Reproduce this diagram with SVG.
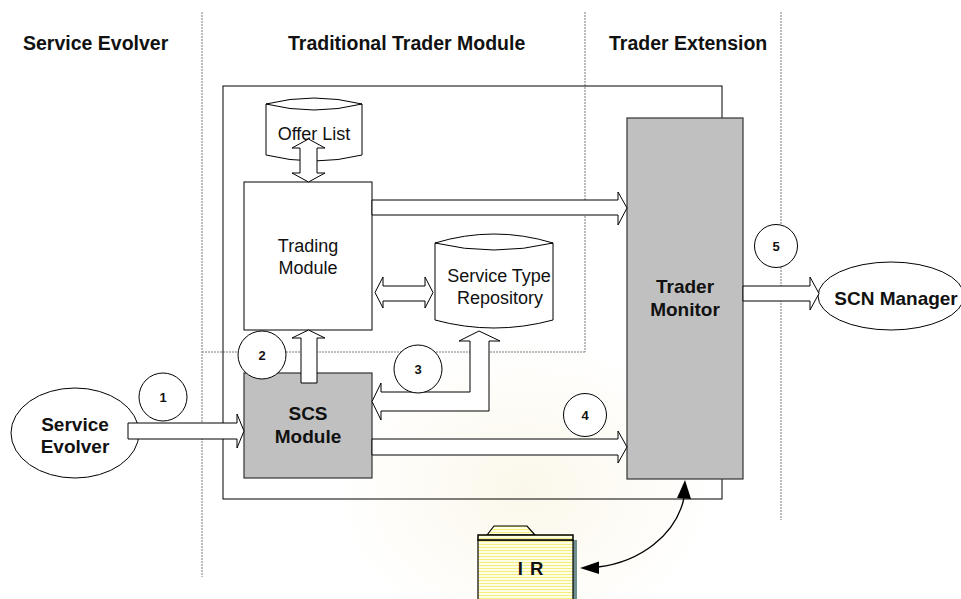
<svg xmlns="http://www.w3.org/2000/svg" width="961" height="599" viewBox="0 0 961 599">
  <defs>
    <style>
      .hdr { font-family: "Liberation Sans", Arial, sans-serif; font-weight: bold; font-size: 19.5px; fill: #111; }
      .lbl { font-family: "Liberation Sans", Arial, sans-serif; font-size: 18px; fill: #111; text-anchor: middle; }
      .blbl { font-family: "Liberation Sans", Arial, sans-serif; font-weight: bold; font-size: 19px; fill: #111; text-anchor: middle; }
      .num { font-family: "Liberation Sans", Arial, sans-serif; font-weight: bold; font-size: 13px; fill: #111; text-anchor: middle; }
      .dash { stroke: #7a7a7a; stroke-width: 1; stroke-dasharray: 2 1; fill: none; }
      .box { fill: #fff; stroke: #000; stroke-width: 1; }
      .gbox { fill: #c0c0c0; stroke: #333; stroke-width: 1.2; }
      .barrow { fill: #fff; stroke: #000; stroke-width: 1; stroke-linejoin: miter; }
      .circ { fill: #fff; stroke: #000; stroke-width: 1; }
    </style>
    <pattern id="folderLines" width="6" height="3" patternUnits="userSpaceOnUse">
      <rect width="6" height="3" fill="#ffffe6"/>
      <line x1="0" y1="1.5" x2="6" y2="1.5" stroke="#f4ee80" stroke-width="1"/>
    </pattern>
    <radialGradient id="wm" cx="0.5" cy="0.5" r="0.5">
      <stop offset="0" stop-color="#f3e9c4" stop-opacity="0.35"/>
      <stop offset="1" stop-color="#f3e9c4" stop-opacity="0"/>
    </radialGradient>
  </defs>

  <rect width="961" height="599" fill="#fff"/>

  <!-- faint background emblem -->
  <g id="emblem">
    <ellipse cx="525" cy="490" rx="190" ry="150" fill="url(#wm)"/>
  </g>

  <!-- column separators -->
  <g id="separators">
    <line class="dash" x1="202" y1="12" x2="202" y2="577"/>
    <line class="dash" x1="585" y1="12" x2="585" y2="352"/>
    <line class="dash" x1="202" y1="352" x2="585" y2="352"/>
    <line class="dash" x1="781" y1="12" x2="781" y2="520"/>
  </g>

  <!-- column headings -->
  <g id="headings">
    <text class="hdr" x="23" y="50">Service Evolver</text>
    <text class="hdr" x="288" y="50">Traditional Trader Module</text>
    <text class="hdr" x="609" y="50">Trader Extension</text>
  </g>

  <!-- trader boundary -->
  <g id="trader-boundary">
    <rect x="223" y="86" width="499" height="413" fill="none" stroke="#000" stroke-width="1"/>
  </g>

  <g id="offer-list">
    <path class="box" d="M266,104 L266,155 Q314,167 362,155 L362,104 Z"/>
    <path class="box" d="M266,104 Q314,92 362,104 Q314,116 266,104 Z"/>
    <text class="lbl" x="314" y="140">Offer List</text>
  </g>

  <g id="trading-module">
    <rect class="box" x="244" y="182" width="128" height="148"/>
    <text class="lbl" x="308" y="252">Trading</text>
    <text class="lbl" x="308" y="274">Module</text>
  </g>

  <g id="service-type-repository">
    <path class="box" d="M435,243 L435,320 Q494,336 553,320 L553,243 Z"/>
    <path class="box" d="M435,243 Q494,225 553,243 Q494,257 435,243 Z"/>
    <text class="lbl" x="499" y="282">Service Type</text>
    <text class="lbl" x="500" y="304">Repository</text>
  </g>

  <g id="scs-module">
    <rect class="gbox" x="244" y="373" width="128" height="105"/>
    <text class="blbl" x="308" y="420">SCS</text>
    <text class="blbl" x="308" y="443">Module</text>
  </g>

  <g id="trader-monitor">
    <rect class="gbox" x="627" y="118" width="116" height="361"/>
    <text class="blbl" x="685" y="293">Trader</text>
    <text class="blbl" x="685" y="316">Monitor</text>
  </g>

  <g id="service-evolver">
    <ellipse class="box" cx="75" cy="433" rx="64" ry="45"/>
    <text class="blbl" x="75" y="431">Service</text>
    <text class="blbl" x="75" y="453">Evolver</text>
  </g>

  <g id="scn-manager">
    <ellipse class="box" cx="891" cy="296" rx="73" ry="34"/>
    <text class="blbl" x="896" y="305">SCN Manager</text>
  </g>

  <g id="ir">
    <polygon points="487,535 494,526 527,526 535,535" fill="url(#folderLines)" stroke="#000" stroke-width="1.2"/>
    <rect x="573" y="540" width="4" height="60" fill="#6f8f8c"/>
    <rect x="478" y="540" width="95" height="62" fill="url(#folderLines)" stroke="#000" stroke-width="1.2"/>
    <rect x="478" y="535" width="95" height="5" fill="url(#folderLines)" stroke="#000" stroke-width="1.5"/>
    <text class="blbl" x="531" y="575" style="font-size:18.5px; letter-spacing:1px">I R</text>
  </g>

  <!-- connectors -->
  <g id="connectors">
    <!-- Offer List <-> Trading Module -->
    <polygon class="barrow" points="308.5,139 325,148 317,148 317,173 325,173 308.5,182 292,173 300,173 300,148 292,148"/>
    <!-- Trading Module -> Trader Monitor -->
    <polygon class="barrow" points="372,200 618,200 618,192 627,208 618,225 618,215 372,215"/>
    <!-- Trading Module <-> Service Type Repository -->
    <polygon class="barrow" points="375,292.5 383,277 383,286 425,286 425,277 433,292.5 425,308 425,301 383,301 383,308"/>
    <!-- SCS Module -> Trading Module -->
    <polygon class="barrow" points="308.5,330 325,338 317,338 317,383 301,383 301,338 292,338"/>
    <!-- SCS Module <-> Service Type Repository -->
    <polygon class="barrow" points="479,331 500,341 489,341 489,411 381,411 381,420 372,401.5 381,383 381,392 470,392 470,341 459,341"/>
    <!-- Service Evolver -> SCS Module -->
    <polygon class="barrow" points="128,423 237,423 237,414 244,431 237,448 237,439 128,439"/>
    <!-- SCS Module -> Trader Monitor -->
    <polygon class="barrow" points="372,439 618,439 618,431 627,447 618,463 618,455 372,455"/>
    <!-- Trader Monitor -> SCN Manager -->
    <polygon class="barrow" points="743,286 810,286 810,277 819,293.5 810,310 810,301 743,301"/>
    <!-- IR <-> Trader Monitor -->
    <path d="M598,567 C640,562 676,535 684,498" fill="none" stroke="#000" stroke-width="1.3"/>
    <polygon points="580,568 599,561.5 599,574" fill="#000"/>
    <polygon points="685,480 677,498 691,499" fill="#000"/>
  </g>

  <!-- step markers -->
  <g id="step-1">
    <circle class="circ" cx="163" cy="397" r="24"/>
    <text class="num" x="163" y="402">1</text>
  </g>
  <g id="step-2">
    <circle class="circ" cx="262" cy="355" r="24"/>
    <text class="num" x="262" y="360">2</text>
  </g>
  <g id="step-3">
    <circle class="circ" cx="418" cy="369" r="24"/>
    <text class="num" x="418" y="374">3</text>
  </g>
  <g id="step-4">
    <circle class="circ" cx="585" cy="415" r="21.5"/>
    <text class="num" x="585" y="420">4</text>
  </g>
  <g id="step-5">
    <circle class="circ" cx="776" cy="246" r="21.5"/>
    <text class="num" x="776" y="251">5</text>
  </g>
</svg>
